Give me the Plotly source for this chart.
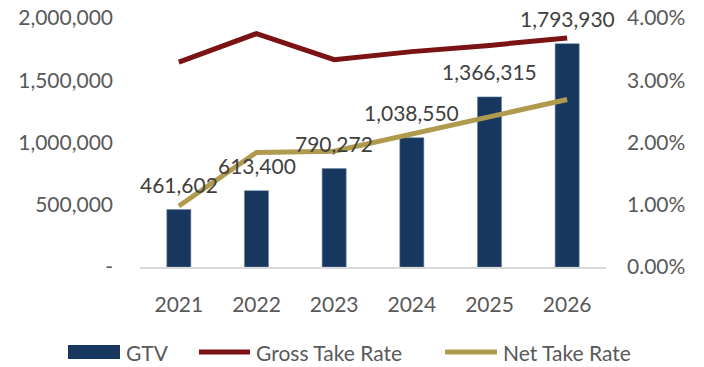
import plotly.graph_objects as go

years = [2021, 2022, 2023, 2024, 2025, 2026]
year_labels = ["2021", "2022", "2023", "2024", "2025", "2026"]
gtv = [461602, 613400, 790272, 1038550, 1366315, 1793930]
gross_take_rate = [0.0329, 0.0375, 0.0333, 0.0346, 0.0356, 0.0368]
net_take_rate = [0.0098, 0.0184, 0.0186, 0.0214, 0.0242, 0.0269]
gtv_labels = [f"{v:,}" for v in gtv]
left_ticks = [0, 500000, 1000000, 1500000, 2000000]
left_ticktext = ["-", "500,000", "1,000,000", "1,500,000", "2,000,000"]
right_ticks = [0, 0.01, 0.02, 0.03, 0.04]

BAR = "#17375E"
GROSS = "#7B1214"
NET = "#B09A4E"
FONT = "Lato"

W, H = 704, 367
L, R, T, B = 140, 98, 18, 100
PW, PH = W - L - R, H - T - B

def px(x):
    return (x - L) / PW

def py(y):
    return (H - B - y) / PH

fig = go.Figure()
fig.add_trace(go.Bar(x=years, y=gtv, name="GTV", marker=dict(color=BAR, line=dict(color="#6F86A3", width=0.6)),
                     width=0.31, yaxis="y", xaxis="x"))
fig.add_trace(go.Scatter(x=years, y=gross_take_rate, name="Gross Take Rate", mode="lines",
                         line=dict(color=GROSS, width=5), yaxis="y2", xaxis="x"))
fig.add_trace(go.Scatter(x=years, y=net_take_rate, name="Net Take Rate", mode="lines",
                         line=dict(color=NET, width=5), yaxis="y2", xaxis="x"))

annotations = []
for yr, v, lab in zip(years, gtv, gtv_labels):
    annotations.append(dict(x=yr, y=v, xref="x", yref="y", text=lab, showarrow=False,
                            yanchor="middle", yshift=25,
                            font=dict(family=FONT, size=21, color="#404040")))

# custom legend
legend_y = 352
fig.add_shape(type="rect", xref="paper", yref="paper", x0=px(68), x1=px(120), y0=py(345), y1=py(359),
              fillcolor=BAR, line=dict(width=0))
fig.add_shape(type="line", xref="paper", yref="paper", x0=px(199), x1=px(250), y0=py(legend_y), y1=py(legend_y),
              line=dict(color=GROSS, width=5))
fig.add_shape(type="line", xref="paper", yref="paper", x0=px(445), x1=px(497), y0=py(legend_y), y1=py(legend_y),
              line=dict(color=NET, width=5))
for xpix, name in [(124, "GTV"), (254, "Gross Take Rate"), (501, "Net Take Rate")]:
    annotations.append(dict(x=px(xpix), y=py(legend_y), xref="paper", yref="paper", text=name,
                            showarrow=False, xanchor="left", yanchor="middle",
                            font=dict(family=FONT, size=21, color="#595959")))

fig.update_layout(
    width=W, height=H,
    margin=dict(l=L, r=R, t=T, b=B, pad=0, autoexpand=False),
    paper_bgcolor="white", plot_bgcolor="white",
    showlegend=False,
    font=dict(family=FONT, size=21, color="#595959"),
    xaxis=dict(type="linear", range=[2020.5, 2026.5], autorange=False, tickvals=years, ticktext=year_labels,
               showgrid=False, zeroline=False, showline=True, linecolor="#D9D9D9", linewidth=2,
               ticks="", ticklabelstandoff=18, tickfont=dict(size=21, color="#595959")),
    yaxis=dict(range=[0, 2000000], autorange=False, tickvals=left_ticks, ticktext=left_ticktext, showgrid=False,
               zeroline=False, showline=False, ticks="", ticklabelstandoff=26,
               tickfont=dict(size=21, color="#595959")),
    yaxis2=dict(range=[0, 0.04], autorange=False, tickvals=right_ticks, tickformat=".2%", overlaying="y",
                side="right", anchor="x",
                showgrid=False, zeroline=False, showline=False, ticks="", ticklabelstandoff=20,
                tickfont=dict(size=21, color="#595959")),
    annotations=annotations,
)

fig.write_html("out.html")
